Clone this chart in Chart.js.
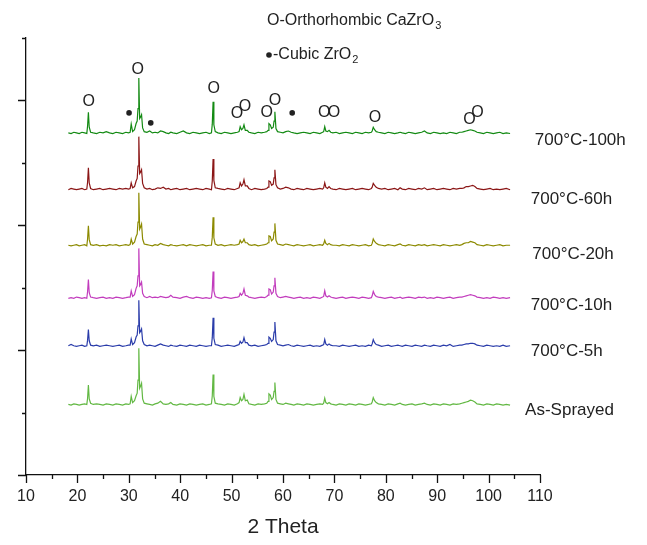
<!DOCTYPE html>
<html>
<head>
<meta charset="utf-8">
<script src="https://cdn.jsdelivr.net/npm/chart.js@4"></script>
<style>
  html, body { margin: 0; padding: 0; background: #fff; }
  #wrap { width: 647px; height: 545px; }
</style>
</head>
<body>
<div id="wrap"><canvas id="xrd"></canvas></div>
<script>
// 2-theta grid, denser around the peaks
const THETA = [
  18.24, 18.77, 19.30, 19.82, 20.35, 20.88, 21.41, 21.83,
  21.98, 22.14, 22.30, 22.57,
  23.09, 23.73, 24.36, 24.99, 25.62, 26.26, 26.89, 27.52, 28.15, 28.79, 29.42, 29.95,
  30.26, 30.47, 30.74, 31.11, 31.42, 31.63, 31.79, 31.95, 32.11, 32.27, 32.48, 32.69, 33.00,
  33.53, 34.06, 34.59, 35.11, 35.64, 36.17, 36.70, 37.22, 37.75, 38.17, 38.59, 39.33, 39.96, 40.60, 41.23, 41.86, 42.49, 43.13, 43.76, 44.39, 45.03, 45.66, 46.08,
  46.24, 46.40, 46.55, 46.82,
  47.35, 47.98, 48.61, 49.24, 49.88, 50.51, 51.14,
  51.46, 51.67, 51.93, 52.20, 52.41, 52.67, 53.04, 53.36,
  53.88, 54.52, 55.15, 55.78, 56.41, 56.84,
  57.10, 57.26, 57.52, 57.78, 58.10, 58.26, 58.42, 58.63, 58.94,
  59.47, 60.00, 60.53, 61.05, 61.58, 62.11, 62.74, 63.37, 64.01, 64.64, 65.27, 65.90, 66.54, 67.17, 67.70,
  67.91, 68.12, 68.33, 68.65, 68.96, 69.28, 69.70,
  70.33, 70.97, 71.60, 72.23, 72.86, 73.50, 74.13, 74.76, 75.39, 76.03, 76.66, 77.19,
  77.35, 77.56, 77.82, 78.14, 78.56,
  79.19, 79.82, 80.46, 81.09, 81.72, 82.35, 82.78, 83.20, 83.83, 84.46, 85.10, 85.73, 86.36, 86.99, 87.52, 88.05, 88.68, 89.31, 89.95, 90.58, 91.21, 91.84, 92.48, 93.11, 93.74, 94.37,
  94.80, 95.22, 95.64, 96.06, 96.48, 96.91, 97.33, 97.75,
  98.38, 99.01, 99.65, 100.28, 100.91, 101.55, 102.18, 102.81, 103.44, 104.18
]

// intensities (a.u.) above each pattern's own baseline
const I_100H = [
  1, 0, 2, 1, 0, 2, 1, 0,
  12, 34, 10, 2,
  1, 0, 2, 1, 3, 1, 0, 2, 1, 0, 2, 1,
  2, 15, 3, 6, 16, 20, 40, 89, 24, 26, 30, 9, 3,
  2, 4, 1, 2, 1, 4, 3, 1, 0, 2, 1, 0, 2, 4, 1, 0, 2, 1, 0, 1, 2, 0, 1,
  15, 51, 14, 3,
  1, 0, 2, 1, 0, 1, 2,
  3, 11, 6, 8, 14, 5, 5, 2,
  1, 0, 2, 1, 2, 3,
  5, 16, 14, 8, 10, 20, 35, 8, 3,
  2, 1, 3, 4, 2, 1, 0, 1, 2, 1, 0, 2, 1, 0, 2,
  3, 11, 4, 3, 5, 2, 1,
  2, 0, 1, 2, 1, 0, 2, 1, 0, 2, 1, 2,
  4, 10, 6, 3, 2,
  1, 0, 2, 1, 0, 1, 2, 1, 0, 2, 1, 0, 1, 2, 4, 1, 0, 2, 1, 0, 1, 0, 2, 1, 0, 2,
  2, 3, 4, 5, 6, 5, 4, 2,
  1, 0, 2, 1, 0, 1, 2, 0, 1, 0
]
const I_60H = [
  0, 2, 1, 0, 1, 2, 0, 1,
  12, 35, 11, 2,
  0, 1, 2, 0, 1, 2, 1, 0, 2, 1, 2, 1,
  2, 11, 3, 5, 14, 18, 38, 85, 26, 28, 32, 10, 3,
  1, 2, 0, 1, 3, 2, 4, 1, 2, 0, 1, 2, 0, 1, 2, 0, 1, 2, 1, 0, 2, 1, 0,
  14, 49, 15, 3,
  2, 1, 0, 2, 1, 0, 2,
  3, 11, 6, 9, 16, 6, 6, 2,
  0, 2, 1, 0, 1, 2,
  4, 14, 13, 7, 9, 19, 32, 8, 3,
  1, 2, 4, 3, 1, 0, 2, 1, 0, 2, 1, 0, 1, 2, 1,
  3, 11, 4, 2, 5, 2, 1,
  0, 2, 1, 0, 1, 2, 0, 1, 2, 1, 0, 2,
  4, 10, 7, 4, 2,
  1, 2, 0, 1, 2, 0, 3, 1, 0, 2, 1, 0, 2, 1, 3, 0, 1, 2, 0, 1, 2, 1, 0, 2, 1, 2,
  2, 3, 5, 5, 6, 7, 5, 2,
  1, 0, 1, 2, 0, 1, 0, 1, 2, 0
]
const I_20H = [
  1, 0, 1, 2, 0, 1, 2, 0,
  11, 32, 10, 2,
  1, 2, 0, 1, 0, 2, 1, 2, 0, 1, 2, 1,
  2, 11, 3, 6, 15, 19, 38, 85, 27, 30, 35, 11, 3,
  2, 1, 0, 2, 1, 4, 2, 1, 0, 2, 1, 0, 1, 2, 0, 2, 1, 0, 1, 2, 0, 1, 1,
  14, 46, 13, 3,
  1, 2, 0, 1, 2, 1, 2,
  3, 9, 5, 7, 11, 5, 5, 2,
  1, 2, 0, 1, 2, 3,
  5, 16, 15, 8, 11, 22, 36, 9, 3,
  2, 1, 3, 2, 1, 0, 2, 1, 0, 1, 2, 0, 1, 2, 1,
  3, 9, 4, 2, 4, 2, 1,
  1, 0, 2, 1, 0, 2, 1, 0, 1, 2, 0, 1,
  4, 11, 7, 4, 2,
  1, 0, 2, 1, 0, 2, 3, 1, 0, 2, 1, 0, 2, 1, 2, 0, 1, 2, 1, 0, 2, 1, 0, 1, 2, 1,
  2, 4, 5, 5, 7, 6, 5, 2,
  1, 0, 2, 1, 0, 1, 2, 0, 1, 1
]
const I_10H = [
  0, 1, 0, 2, 1, 0, 1, 0,
  11, 30, 9, 2,
  1, 0, 1, 2, 0, 1, 0, 2, 1, 0, 1, 2,
  2, 12, 3, 6, 16, 20, 36, 80, 20, 22, 26, 8, 3,
  1, 3, 1, 2, 1, 3, 2, 1, 2, 5, 2, 1, 0, 2, 3, 1, 0, 2, 1, 0, 1, 0, 1,
  13, 43, 12, 3,
  1, 0, 2, 1, 0, 1, 2,
  3, 8, 5, 8, 15, 5, 4, 2,
  1, 0, 1, 2, 1, 3,
  5, 15, 14, 7, 10, 20, 33, 8, 3,
  1, 2, 3, 2, 1, 0, 1, 2, 0, 1, 0, 2, 1, 0, 2,
  3, 12, 4, 2, 4, 2, 1,
  0, 1, 2, 0, 1, 2, 1, 0, 2, 1, 0, 1,
  4, 11, 6, 3, 2,
  1, 0, 1, 2, 0, 1, 2, 0, 1, 2, 1, 0, 2, 1, 2, 0, 1, 0, 2, 1, 0, 1, 2, 0, 1, 2,
  2, 3, 4, 5, 6, 5, 4, 2,
  1, 0, 1, 0, 2, 1, 0, 1, 0, 1
]
const I_5H = [
  1, 3, 1, 0, 1, 2, 0, 1,
  10, 27, 9, 2,
  1, 2, 0, 1, 2, 1, 0, 1, 2, 0, 1, 2,
  2, 12, 3, 6, 15, 18, 33, 74, 22, 24, 28, 9, 3,
  1, 2, 1, 0, 2, 4, 2, 1, 0, 2, 1, 0, 2, 1, 0, 2, 1, 0, 2, 1, 0, 1, 1,
  14, 46, 13, 3,
  2, 0, 1, 2, 1, 0, 2,
  3, 8, 5, 7, 14, 6, 6, 2,
  1, 2, 0, 1, 2, 3,
  5, 15, 13, 8, 11, 23, 39, 9, 3,
  2, 1, 2, 3, 1, 0, 2, 1, 0, 1, 2, 0, 1, 0, 2,
  3, 11, 4, 2, 4, 2, 1,
  1, 0, 2, 1, 0, 1, 2, 0, 1, 0, 2, 1,
  4, 11, 6, 3, 2,
  0, 1, 2, 0, 1, 2, 1, 0, 2, 1, 0, 2, 1, 0, 2, 1, 0, 2, 1, 0, 2, 1, 3, 0, 1, 2,
  2, 3, 4, 4, 5, 5, 4, 2,
  1, 0, 2, 1, 0, 1, 0, 2, 0, 1
]
const I_AS = [
  1, 0, 2, 1, 0, 1, 2, 1,
  11, 32, 10, 3,
  1, 2, 1, 0, 2, 1, 0, 2, 1, 0, 2, 1,
  2, 14, 4, 7, 15, 19, 40, 91, 27, 30, 35, 10, 3,
  2, 1, 0, 2, 3, 6, 2, 1, 2, 4, 1, 0, 2, 1, 0, 2, 1, 0, 1, 2, 0, 1, 2,
  15, 49, 14, 3,
  2, 1, 0, 2, 1, 0, 2,
  4, 12, 7, 9, 17, 7, 8, 2,
  1, 0, 2, 1, 2, 3,
  6, 18, 16, 9, 12, 22, 36, 9, 3,
  2, 1, 3, 2, 1, 0, 2, 1, 0, 2, 1, 0, 1, 2, 1,
  3, 11, 4, 2, 4, 2, 1,
  0, 2, 1, 0, 2, 1, 0, 2, 1, 0, 1, 2,
  5, 12, 7, 4, 2,
  1, 0, 2, 1, 0, 2, 3, 1, 0, 1, 2, 0, 1, 2, 3, 1, 0, 2, 1, 0, 2, 1, 0, 2, 1, 2,
  3, 4, 5, 6, 8, 7, 5, 2,
  1, 0, 2, 1, 0, 2, 1, 0, 1, 0
]

// stacking offsets, top pattern first
const NAMES   = ["700°C-100h", "700°C-60h", "700°C-20h", "700°C-10h", "700°C-5h", "As-Sprayed"]
const OFFSETS = [547, 457, 367, 283, 206, 112]
const COLORS  = ["#138a13", "#8b1616", "#8c8a00", "#c23cbd", "#2a3caa", "#62b843"]
const SERIES  = [I_100H, I_60H, I_20H, I_10H, I_5H, I_AS]

// where each pattern's name sits (2theta, a.u.)
const NAME_AT = [[109.0, 536], [108.2, 442], [108.5, 354], [108.2, 272], [108.2, 198], [107.1, 104]]

// phase markers over the top pattern
const O_MARKS   = [[22.2, 598], [31.74, 650], [46.5, 619], [51.04, 579], [52.62, 590], [56.84, 580],
                   [58.42, 599], [68.01, 580], [69.91, 580], [77.9, 572], [96.27, 570], [97.85, 580]]
const DOT_MARKS = [[30.05, 580], [34.27, 564], [61.79, 580]]

const FONT = "'Liberation Sans', Arial, Helvetica, sans-serif"

const datasets = SERIES.map((ys, k) => ({
  label:       NAMES[k],
  data:        THETA.map((t, i) => ({ x: t, y: ys[i] + OFFSETS[k] })),
  borderColor: COLORS[k],
  borderWidth: 1.2,
  pointRadius: 0,
  tension:     0,
  fill:        false,
}))

// major / minor tick marks drawn outward
const tickMarks = {
  id: "tickMarks",
  afterDraw(chart) {
    const { ctx, chartArea: a, scales: { x, y } } = chart
    ctx.save()
    ctx.strokeStyle = "#111"
    ctx.lineWidth = 1.3
    ctx.beginPath()
    x.ticks.forEach(t => {
      const px = Math.round(x.getPixelForValue(t.value)) + 0.5
      const len = t.value % 10 === 0 ? 8 : 4
      ctx.moveTo(px, a.bottom)
      ctx.lineTo(px, a.bottom + len)
    })
    y.ticks.forEach(t => {
      const py = Math.round(y.getPixelForValue(t.value)) + 0.5
      const len = t.value % 200 === 0 ? 8 : 4
      ctx.moveTo(a.left, py)
      ctx.lineTo(a.left - len, py)
    })
    ctx.stroke()
    ctx.restore()
  },
}

function subText(ctx, main, sub, x, y, size) {
  ctx.font = `${size}px ${FONT}`
  ctx.fillText(main, x, y)
  const w = ctx.measureText(main).width
  ctx.font = `${Math.round(size * 0.7)}px ${FONT}`
  ctx.fillText(sub, x + w + 1, y + size * 0.3)
}

const annotations = {
  id: "annotations",
  afterDatasetsDraw(chart) {
    const { ctx, scales: { x, y } } = chart
    ctx.save()
    ctx.fillStyle = "#222"
    ctx.textBaseline = "middle"
    ctx.textAlign = "center"
    ctx.font = `16px ${FONT}`
    O_MARKS.forEach(([t, v]) => ctx.fillText("O", x.getPixelForValue(t), y.getPixelForValue(v)))
    DOT_MARKS.forEach(([t, v]) => {
      ctx.beginPath()
      ctx.arc(x.getPixelForValue(t), y.getPixelForValue(v), 2.8, 0, Math.PI * 2)
      ctx.fill()
    })

    ctx.textAlign = "left"
    ctx.font = `17px ${FONT}`
    NAMES.forEach((n, k) => {
      const [t, v] = NAME_AT[k]
      ctx.fillText(n, x.getPixelForValue(t), y.getPixelForValue(v))
    })

    // phase key at the top
    subText(ctx, "O-Orthorhombic CaZrO", "3", 267, 21, 16)
    ctx.beginPath()
    ctx.arc(269, 55, 2.8, 0, Math.PI * 2)
    ctx.fill()
    subText(ctx, "-Cubic ZrO", "2", 273, 55, 16)
    ctx.restore()
  },
}

new Chart(document.getElementById("xrd"), {
  type: "line",
  data: { datasets },
  plugins: [tickMarks, annotations],
  options: {
    responsive:          true,
    maintainAspectRatio: false,
    animation:           false,
    layout: { padding: { top: 38, right: 107, left: 0, bottom: 0 } },
    plugins: {
      legend:  { display: false },
      tooltip: { enabled: false },
    },
    scales: {
      x: {
        type: "linear",
        min: 10,
        max: 110,
        afterFit: s => { s.height = 70 },
        border: { display: true, color: "#111", width: 1.3 },
        grid:   { drawOnChartArea: false, drawTicks: true, tickLength: 8, color: "rgba(0,0,0,0)" },
        ticks: {
          stepSize: 5,
          autoSkip: false,
          maxRotation: 0,
          padding: 4,
          color: "#222",
          font: { family: FONT, size: 16 },
          callback: v => (v % 10 === 0 ? v : ""),
        },
        title: {
          display: true,
          text: "2 Theta",
          color: "#222",
          font: { family: FONT, size: 21 },
          padding: { top: 0, bottom: 5 },
        },
      },
      y: {
        min: 0,
        max: 700,
        afterFit: s => { s.width = 26 },
        border: { display: true, color: "#111", width: 1.3 },
        grid:   { drawOnChartArea: false, drawTicks: true, tickLength: 8, color: "rgba(0,0,0,0)" },
        ticks:  { stepSize: 100, display: false },
      },
    },
  },
})
</script>
</body>
</html>
